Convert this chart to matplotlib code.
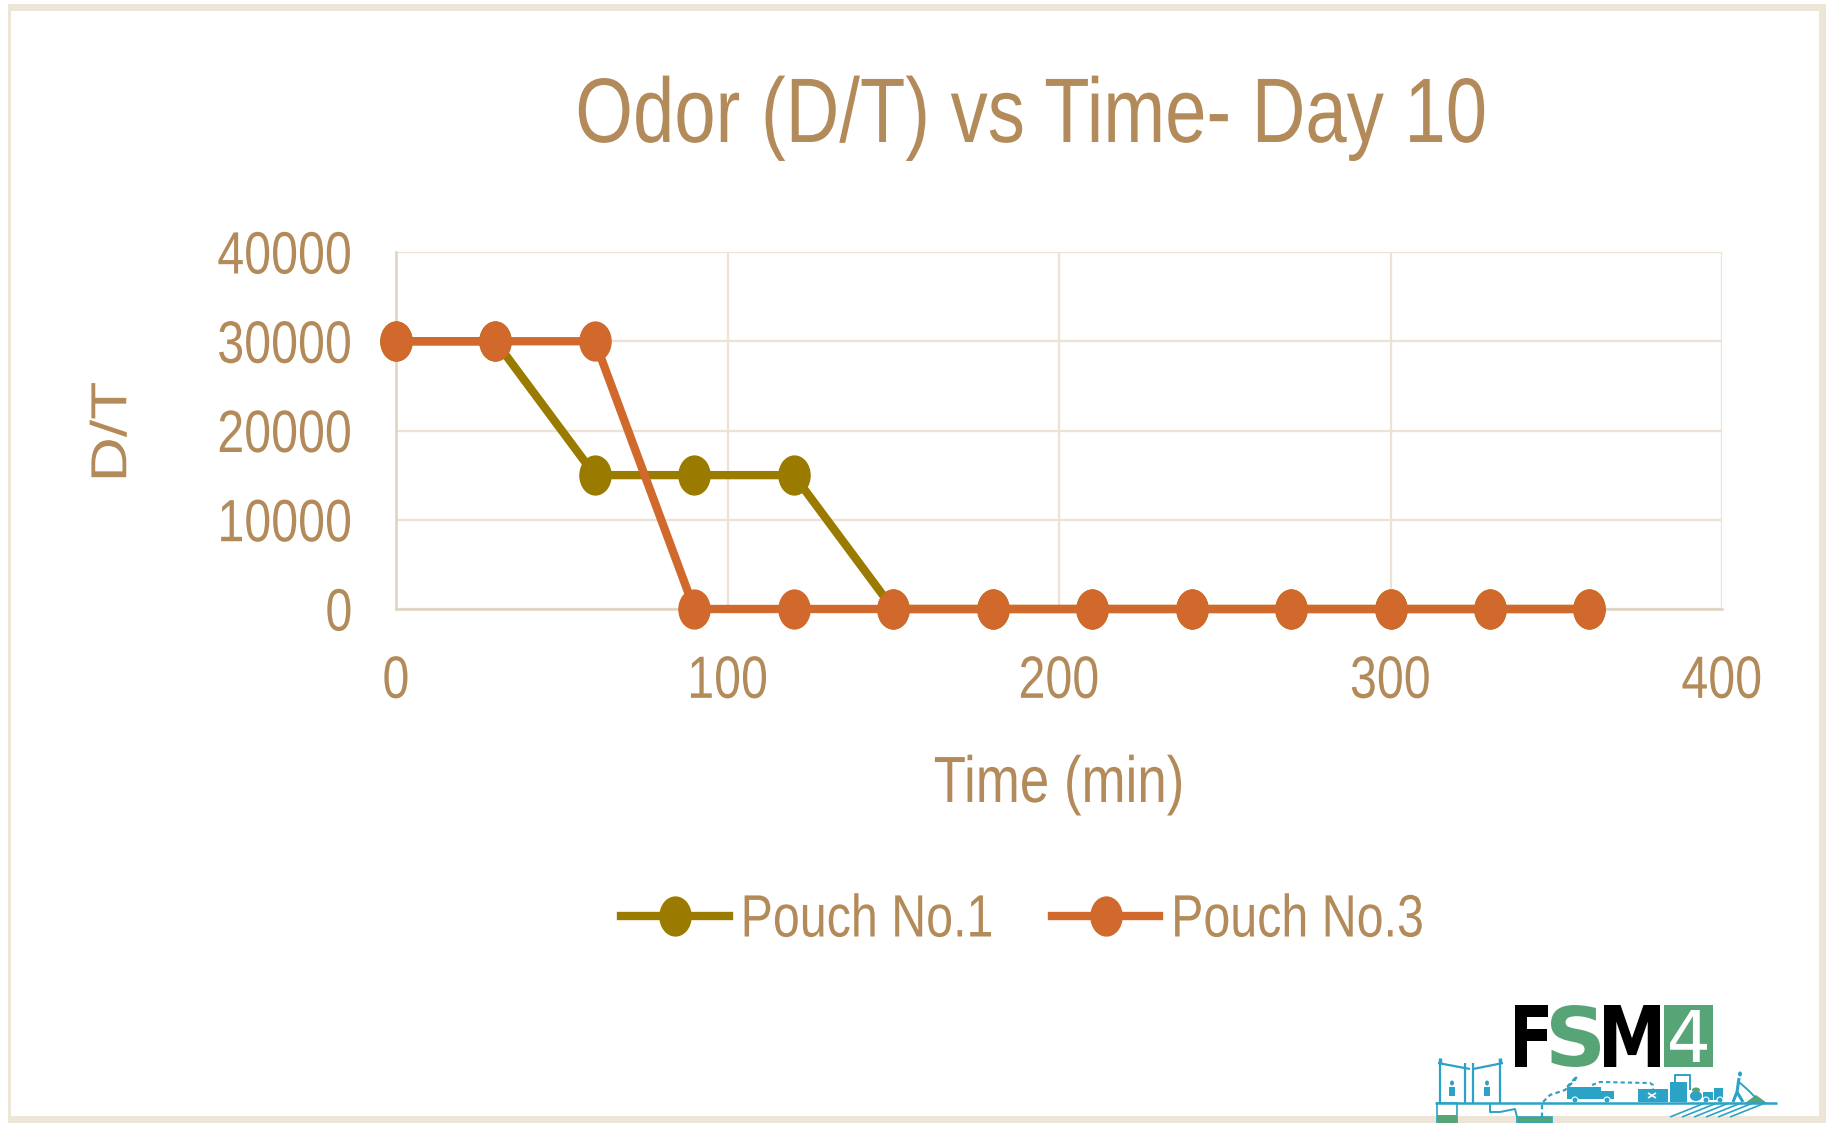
import matplotlib
matplotlib.use('Agg')
import matplotlib.pyplot as plt
from matplotlib.path import Path
from matplotlib.patches import Rectangle, Polygon, Ellipse
from matplotlib.lines import Line2D
from matplotlib.transforms import Affine2D
from matplotlib.patheffects import AbstractPathEffect
import numpy as np

# ---------------- data ----------------
time_min = [0, 30, 60, 90, 120, 150, 180, 210, 240, 270, 300, 330, 360]
pouch1 = [30000, 30000, 15000, 15000, 15000, 0, 0, 0, 0, 0, 0, 0, 0]
pouch3 = [30000, 30000, 30000, 0, 0, 0, 0, 0, 0, 0, 0, 0, 0]
series_names = ['Pouch No.1', 'Pouch No.3']
x_ticks = [0, 100, 200, 300, 400]
y_ticks = [0, 10000, 20000, 30000, 40000]
title_text = 'Odor (D/T) vs Time- Day 10'
x_label = 'Time (min)'
y_label = 'D/T'

# ---------------- style ----------------
W, H = 1827, 1123
FONT = 'Liberation Sans'
SX = 0.81                      # horizontal squeeze seen in the reference
TXT = '#B38A59'
OLIVE = '#9A7B00'
ORANGE = '#D0692B'
GRID = '#ECE3D6'
SPINE = '#DFD2BF'
BORDER = '#EDE5D8'
GREEN = '#57A477'
CYAN = '#2BA3C6'

plt.rcParams['font.family'] = [FONT, 'DejaVu Sans']


class Squeeze(AbstractPathEffect):
    """Compress drawn text horizontally (in display space) about an anchor."""
    def __init__(self, sx=SX, anchor='center'):
        super().__init__()
        self.sx = sx
        self.anchor = anchor

    def draw_path(self, renderer, gc, tpath, affine, rgbFace=None):
        e = tpath.get_extents(affine)
        if self.anchor == 'left':
            a = e.x0
        elif self.anchor == 'right':
            a = e.x1
        else:
            a = 0.5 * (e.x0 + e.x1)
        t = affine + Affine2D().translate(-a, 0).scale(self.sx, 1).translate(a, 0)
        renderer.draw_path(gc, tpath, t, rgbFace)


class FitBox(AbstractPathEffect):
    """Map the ink of a glyph into a box given in image pixels (top-left origin)."""
    def __init__(self, x0, x1, ytop, ybot):
        super().__init__()
        self.box = (x0, x1, H - ybot, H - ytop)

    def draw_path(self, renderer, gc, tpath, affine, rgbFace=None):
        e = tpath.get_extents(affine)
        x0, x1, y0, y1 = self.box
        t = affine + Affine2D().translate(-e.x0, -e.y0).scale(
            (x1 - x0) / e.width, (y1 - y0) / e.height).translate(x0, y0)
        renderer.draw_path(gc, tpath, t, rgbFace)


fig = plt.figure(figsize=(W / 100, H / 100), dpi=100)
px = Affine2D().scale(1 / W, -1 / H).translate(0, 1) + fig.transFigure

ax = fig.add_axes([396 / W, 1 - 609 / H, (1722 - 396) / W, (609 - 252) / H])

ell = Path.unit_circle().transformed(Affine2D().scale(0.8, 1.0))

l1, = ax.plot(time_min, pouch1, color=OLIVE, lw=6, marker=ell, markersize=28,
              clip_on=False, zorder=3, label=series_names[0])
l3, = ax.plot(time_min, pouch3, color=ORANGE, lw=6, marker=ell, markersize=28,
              clip_on=False, zorder=4, label=series_names[1])

ax.set_xlim(0, 400)
ax.set_ylim(0, 40000)
ax.set_xticks(x_ticks)
ax.set_yticks(y_ticks)
ax.set_xticklabels([str(v) for v in x_ticks])
ax.set_yticklabels([str(v) for v in y_ticks])
ax.grid(True, color=GRID, lw=1.6, zorder=0)
ax.set_axisbelow(True)
for s in ['top', 'right']:
    ax.spines[s].set_visible(False)
for s in ['left', 'bottom']:
    ax.spines[s].set_color(SPINE)
    ax.spines[s].set_linewidth(1.8)
ax.tick_params(axis='both', length=0, labelsize=43, labelcolor=TXT)
ax.tick_params(axis='x', pad=33)
ax.tick_params(axis='y', pad=31)
for t in ax.xaxis.get_major_ticks():
    t.label1.set_path_effects([Squeeze(anchor='center')])
for t in ax.yaxis.get_major_ticks():
    t.label1.set_path_effects([Squeeze(anchor='right')])

xl = ax.set_xlabel(x_label, fontsize=47, color=TXT, va='baseline')
ax.xaxis.set_label_coords(0.5, -(802 - 609) / (609 - 252))
xl.set_path_effects([Squeeze(anchor='center')])
yl = ax.set_ylabel(y_label, fontsize=45, color=TXT, va='center', ha='center')
ax.yaxis.set_label_coords(-(396 - 114) / (1722 - 396), (609 - 432) / (609 - 252))
yl.set_path_effects([Squeeze(anchor='center')])

tt = fig.text(1031 / W, 1 - 142 / H, title_text, fontsize=66, color=TXT,
              ha='center', va='baseline')
tt.set_path_effects([Squeeze(anchor='center')])

leg = fig.legend(handles=[l1, l3], labels=series_names, loc='center',
                 bbox_to_anchor=(1052 / W, 1 - 921 / H), ncol=2, frameon=False,
                 fontsize=43, labelcolor=TXT, handlelength=1.8, handletextpad=0.18,
                 columnspacing=0.0)
for t in leg.get_texts():
    t.set_path_effects([Squeeze(anchor='left')])

# ---------------- frame ----------------
for (x0, y0, x1, y1) in [(8, 4, 1826, 11), (8, 1116, 1826, 1123),
                         (8, 4, 11, 1123), (1819, 4, 1826, 1123)]:
    fig.patches.append(Rectangle((x0, y0), x1 - x0, y1 - y0, transform=px,
                                 facecolor=BORDER, edgecolor='none', zorder=0))

# ---------------- logo ----------------
lf = dict(fontsize=30, fontweight='bold', family='DejaVu Sans', va='baseline', ha='left',
          transform=px)
f1 = fig.text(1515, 1067, 'F', color='black', **lf)
f1.set_path_effects([FitBox(1515, 1548, 1005, 1067)])
f2 = fig.text(1551, 1067, 'S', color=GREEN, **lf)
f2.set_path_effects([FitBox(1551, 1600, 1005, 1067)])
f3 = fig.text(1604, 1067, 'M', color='black', **lf)
f3.set_path_effects([FitBox(1604, 1660, 1005, 1067)])
fig.patches.append(Rectangle((1664, 1005), 49, 62, transform=px, facecolor=GREEN,
                             edgecolor='none'))
f4 = fig.text(1672, 1062, '4', color='white', fontsize=30, family='DejaVu Sans',
              va='baseline', ha='left', transform=px)
f4.set_path_effects([FitBox(1670, 1707, 1010, 1062)])


def ln(xs, ys, lw=1.6, ls='-', color=CYAN):
    fig.add_artist(Line2D(xs, ys, transform=px, color=color, lw=lw, ls=ls,
                          solid_capstyle='butt'))


def rect(x0, y0, w, h, fc=CYAN, ec='none', lw=0):
    fig.patches.append(Rectangle((x0, y0), w, h, transform=px, facecolor=fc,
                                 edgecolor=ec, lw=lw))


# ground
ln([1435, 1777], [1103, 1103], lw=1.8)
# huts
for xx in [1440, 1465, 1473, 1500]:
    ln([xx, xx], [1063, 1103], lw=1.6)
ln([1438, 1470], [1063, 1069]); ln([1473, 1503], [1069, 1063])
for xx in [1440, 1500]:
    ln([xx, xx], [1058, 1063], lw=2.5)
# people in huts
for xx in [1452, 1487]:
    fig.patches.append(Ellipse((xx, 1083), 4, 5, transform=px, facecolor=CYAN))
    rect(xx - 3, 1087, 6, 9)
# pits
rect(1437, 1103, 20, 20, fc='white', ec=CYAN, lw=1.2)
rect(1437, 1115, 20, 8, fc=GREEN)
ln([1490, 1490, 1500, 1515, 1517], [1103, 1112, 1112, 1109, 1117], lw=1.4)
rect(1517, 1117, 35, 6, fc=GREEN, ec=CYAN, lw=1.2)
# hose and truck
ln([1542, 1542, 1550, 1565, 1575, 1577, 1567], [1117, 1103, 1095, 1090, 1080, 1076, 1087],
   lw=1.6, ls=(0, (2, 1.5)))
rect(1567, 1087, 34, 12)
rect(1601, 1091, 13, 8)
for xx in [1575, 1607]:
    fig.patches.append(Ellipse((xx, 1100), 6, 6, transform=px, facecolor=CYAN,
                               edgecolor='white', lw=0.8))
ln([1592, 1600, 1650, 1653, 1653], [1085, 1082, 1083, 1085, 1089], lw=1.5, ls=(0, (2, 1.5)))
# treatment boxes
rect(1638, 1089, 30, 13)
ln([1648, 1656], [1093, 1098], color='white', lw=1.2)
ln([1648, 1656], [1098, 1093], color='white', lw=1.2)
rect(1670, 1082, 17, 20)
ln([1675, 1675, 1690, 1690], [1082, 1075, 1075, 1090], lw=1.4)
# vehicles
fig.patches.append(Ellipse((1696, 1096), 12, 10, transform=px, facecolor=CYAN))
fig.patches.append(Ellipse((1696, 1090), 8, 5, transform=px, facecolor=GREEN))
rect(1703, 1092, 10, 8)
rect(1714, 1088, 9, 12)
for xx in [1706, 1720]:
    fig.patches.append(Ellipse((xx, 1100), 6, 6, transform=px, facecolor=CYAN,
                               edgecolor='white', lw=0.8))
# farmer and pile
fig.patches.append(Ellipse((1740, 1074), 4, 5, transform=px, facecolor=CYAN))
ln([1739, 1737, 1733], [1078, 1092, 1102], lw=2.2)
ln([1737, 1743], [1092, 1102], lw=2.2)
ln([1739, 1748, 1756], [1082, 1090, 1098], lw=1.4)
fig.patches.append(Polygon([(1745, 1103), (1756, 1095), (1767, 1103)], closed=True,
                           transform=px, facecolor=GREEN, edgecolor='none'))
# field furrows
for k in range(6):
    ln([1670 + 12 * k, 1705 + 12 * k], [1117, 1103], lw=1.2)

fig.savefig('out.png', dpi=100)
